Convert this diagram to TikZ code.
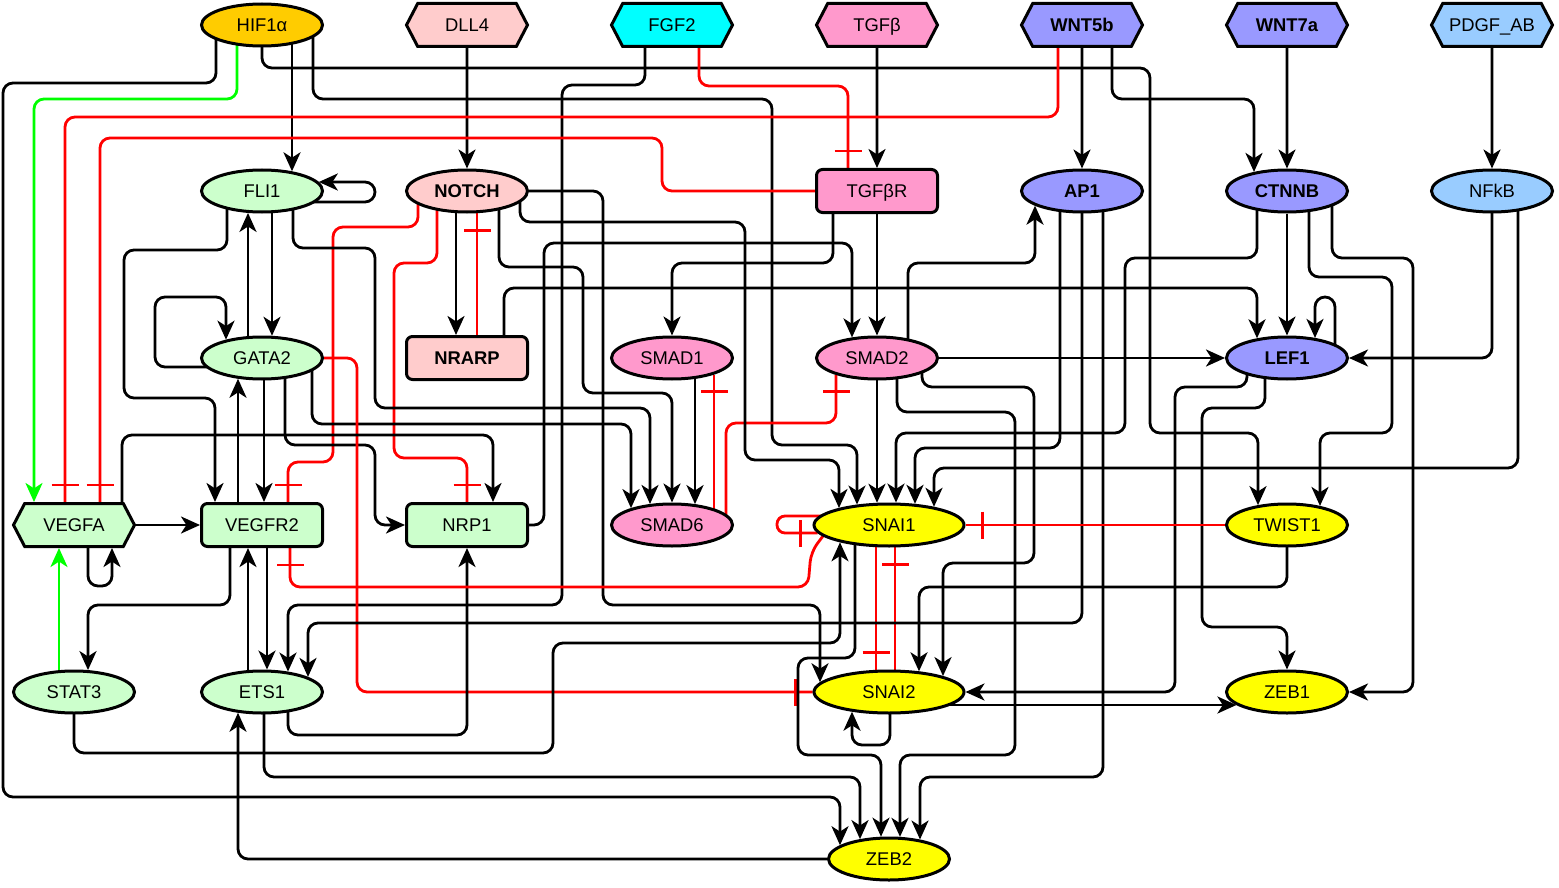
\documentclass[tikz,border=0pt]{standalone}
\usepackage{fontspec}
\setmainfont{Liberation Sans}
\usetikzlibrary{arrows.meta,calc,shapes.symbols,shapes.geometric,backgrounds,decorations.markings}
\definecolor{cHIF}{HTML}{FFCC00}
\definecolor{cPink}{HTML}{FFCCCC}
\definecolor{cCyan}{HTML}{00FFFF}
\definecolor{cMag}{HTML}{FF99CC}
\definecolor{cBlue}{HTML}{9999FF}
\definecolor{cSky}{HTML}{99CCFF}
\definecolor{cGreenN}{HTML}{CCFFCC}
\definecolor{cYel}{HTML}{FFFF00}
\definecolor{cRed}{HTML}{FF0000}
\definecolor{cGreenL}{HTML}{00FF00}
\begin{document}
\begin{tikzpicture}[x=0.5pt,y=-0.5pt,
 declare function={
   etop(\x)=-22.5*sqrt(1-(\x)*(\x)/3844);
   ebot(\x)=22.5*sqrt(1-(\x)*(\x)/3844);
   wtop(\x)=-22.5*sqrt(1-(\x)*(\x)/5852.25);
   wbot(\x)=22.5*sqrt(1-(\x)*(\x)/5852.25);
   eside(\x)=62*sqrt(1-(\x)*(\x)/506.25);
   wside(\x)=76.5*sqrt(1-(\x)*(\x)/506.25);
 },
 base/.style={draw, line width=1.5pt, inner sep=0pt, text=black, text height=6.6pt, text depth=0pt, font=\fontsize{9.2}{11}\selectfont},
 ell/.style={base, ellipse, minimum width=60.5pt, minimum height=21pt},
 wide/.style={ell, minimum width=75pt},
 box/.style={base, rectangle, rounded corners=3pt, minimum width=60.5pt, minimum height=21.5pt},
 hex/.style={base, signal, signal to=east and west, signal pointer angle=125, minimum width=60.5pt, minimum height=21.5pt},
 bf/.style={font=\fontsize{9.2}{11}\selectfont\bfseries},
 edge/.style={line width=1.4pt, rounded corners=5pt},
 act/.style={edge, black, -{Stealth[length=9.5pt,width=8.5pt,inset=2.7pt]}},
 gact/.style={edge, cGreenL, -{Stealth[length=9.5pt,width=8.5pt,inset=2.7pt]}},
 inh/.style={edge, cRed, postaction={decorate},
   decoration={markings, mark=at position -8.5pt with {\draw[cRed,line width=1.4pt] (0,-6.75pt) -- (0,6.75pt);}}},
]
% nodes
\node[ell,fill=cHIF] (hif) at (262,25) {HIF1α};
\node[hex,fill=cPink] (dll) at (467,25) {DLL4};
\node[hex,fill=cCyan] (fgf) at (672,25) {FGF2};
\node[hex,fill=cMag] (tgfb) at (877,25) {TGFβ};
\node[hex,fill=cBlue,bf] (w5b) at (1082,25) {WNT5b};
\node[hex,fill=cBlue,bf] (w7a) at (1287,25) {WNT7a};
\node[hex,fill=cSky] (pdgf) at (1492,25) {PDGF\_AB};
\node[ell,fill=cGreenN] (fli) at (262,191) {FLI1};
\node[ell,fill=cPink,bf] (notch) at (467,191) {NOTCH};
\node[box,fill=cMag] (tgfr) at (877,191) {TGFβR};
\node[ell,fill=cBlue,bf] (ap1) at (1082,191) {AP1};
\node[ell,fill=cBlue,bf] (ctnnb) at (1287,191) {CTNNB};
\node[ell,fill=cSky] (nfkb) at (1492,191) {NFkB};
\node[ell,fill=cGreenN] (gata) at (262,358) {GATA2};
\node[box,fill=cPink,bf] (nrarp) at (467,358) {NRARP};
\node[ell,fill=cMag] (smad1) at (672,358) {SMAD1};
\node[ell,fill=cMag] (smad2) at (877,358) {SMAD2};
\node[ell,fill=cBlue,bf] (lef) at (1287,358) {LEF1};
\node[hex,fill=cGreenN] (vegfa) at (74,525) {VEGFA};
\node[box,fill=cGreenN] (vegfr) at (262,525) {VEGFR2};
\node[box,fill=cGreenN] (nrp) at (467,525) {NRP1};
\node[ell,fill=cMag] (smad6) at (672,525) {SMAD6};
\node[wide,fill=cYel] (snai1) at (889,525) {SNAI1};
\node[ell,fill=cYel] (twist) at (1287,525) {TWIST1};
\node[ell,fill=cGreenN] (stat3) at (74,692) {STAT3};
\node[ell,fill=cGreenN] (ets) at (262,692) {ETS1};
\node[wide,fill=cYel] (snai2) at (889,692) {SNAI2};
\node[ell,fill=cYel] (zeb1) at (1287,692) {ZEB1};
\node[ell,fill=cYel] (zeb2) at (889,859) {ZEB2};
\begin{pgfonlayer}{background}
\path[fill=white, use as bounding box] (0,0) rectangle (1559,888);
% HIF1a
\draw[act] ($(hif)+(30,0)$) -- ($(fli)+(30,{etop(30)})$);
\draw[act] ($(hif)+(-46,0)$) |- (3,83) |- (840,797) -- ($(zeb2)+(-49,{etop(-49)})$);
\draw[gact] ($(hif)+(-25,0)$) |- (34,99) -- ($(vegfa.north)+(-40,0)$);
\draw[act] (hif.center) |- (1150,68) |- (1258,433) -- ($(twist)+(-29,{etop(-29)})$);
\draw[act] ($(hif)+(51,0)$) |- (772,99) |- (857,445) -- ($(snai1)+(-32,{wtop(-32)})$);
% DLL4, FGF2, TGFb
\draw[act] (dll) -- (notch);
\draw[act] ($(fgf)+(-27,0)$) |- (562,85) |- (288,605) -- ($(ets)+(26,{etop(26)})$);
\draw[inh] ($(fgf)+(27,0)$) |- (848,86) -- ($(tgfr.north)+(-29,0)$);
\draw[act] (tgfb) -- (tgfr);
% WNT5b, WNT7a, PDGF
\draw[inh] ($(w5b)+(-24,0)$) |- (65,117) -- ($(vegfa.north)+(-9,0)$);
\draw[act] (w5b) -- (ap1);
\draw[act] ($(w5b)+(30,0)$) |- (1254,99) -- ($(ctnnb)+(-33,{etop(-33)})$);
\draw[act] (w7a) -- (ctnnb);
\draw[act] (pdgf) -- (nfkb);
% TGFbR
\draw[inh] (tgfr.west) -| (662,138) -| ($(vegfa.north)+(26,0)$);
\draw[act] ($(tgfr)+(-44,0)$) |- (672,263) -- (smad1);
\draw[act] (tgfr) -- (smad2);
% NRP1
\draw[act] (nrp.east) -| (544,243) -| ($(smad2)+(-25,{etop(-25)})$);
% SMAD2
\draw[act] ($(smad2)+(31,0)$) |- (1035,263) -- ($(ap1)+(-47,{ebot(-47)})$);
\draw[act] (smad2.east) -- (lef.west);
\draw[act] (smad2.center) -- ($(snai1)+(-12,{wtop(-12)})$);
\draw[act] ($(smad2)+(45,0)$) |- (1034,387) |- (943,563) -- ($(snai2)+(54,{wtop(54)})$);
\draw[act] ($(smad2)+(20,0)$) |- (1015,412) |- (900,755) -- ($(zeb2)+(11,{etop(11)})$);
% SMAD6, SMAD1
\draw[inh] ($(smad6)+(54,0)$) |- (836,423) -- ($(smad2)+(-41,{ebot(-41)})$);
\draw[inh] ($(smad6)+(42,0)$) -- ($(smad1)+(42,{ebot(42)})$);
\draw[act] ($(smad1)+(23,0)$) -- ($(smad6)+(23,{etop(23)})$);
% NOTCH
\draw[act] ($(notch)+(32,0)$) |- (583,267) |- (672,393) -- (smad6);
\draw[act] ($(notch)+(53,0)$) |- (745,222) |- (839,460) -- ($(snai1)+(-50,{wtop(-50)})$);
\draw[act] (notch.east) -| (603,605) -| ($(snai2)+(-69,{wtop(-69)})$);
\draw[act] ($(notch)+(-11,0)$) -- ($(nrarp.north)+(-11,0)$);
\draw[inh] ($(notch)+(-49,0)$) |- (333,227) |- (288,462) -- ($(vegfr.north)+(26,0)$);
\draw[inh] ($(notch)+(-30,0)$) |- (394,263) |- (467,458) -- (nrp.north);
% NRARP
\draw[inh] ($(nrarp.north)+(10,0)$) -- ($(notch)+(10,{ebot(10)})$);
\draw[act] ($(nrarp.north)+(37,0)$) |- (1257,288) -- ($(lef)+(-30,{etop(-30)})$);
% FLI1
\draw[act] ($(fli)+(0,11)$) -| (375,182) -- ($(fli)+({eside(-9)},-9)$);
\draw[act] ($(fli)+(10,0)$) -- ($(gata)+(10,{etop(10)})$);
\draw[act] ($(fli)+(-35,0)$) |- (124,250) |- (215,398) -- ($(vegfr.north)+(-47,0)$);
\draw[act] ($(fli)+(31,0)$) |- (375,248) |- (650,408) -- ($(smad6)+(-22,{etop(-22)})$);
% GATA2
\draw[act] ($(gata)+(-14,0)$) -- ($(fli)+(-14,{ebot(-14)})$);
\draw[act] ($(gata)+(0,9)$) -| (155,297) -| ($(gata)+(-36,{etop(-36)})$);
\draw[act] ($(gata)+(2,0)$) -- ($(vegfr.north)+(2,0)$);
\draw[act] ($(gata)+(23,0)$) |- (375,445) |- (nrp.west);
\draw[act] ($(gata)+(50,0)$) |- (631,424) -- ($(smad6)+(-41,{etop(-41)})$);
\draw[inh] (gata.east) -| (357,692) -- (snai2.west);
% VEGFA
\draw[act] (vegfa.east) -- (vegfr.west);
\draw[act] ($(vegfa)+(14,0)$) |- (112,586) -- ($(vegfa.south)+(38,0)$);
\draw[act] ($(vegfa)+(48,0)$) |- (493,435) -- ($(nrp.north)+(26,0)$);
% STAT3
\draw[gact] ($(stat3)+(-15,0)$) -- ($(vegfa.south)+(-15,0)$);
\draw[act] (stat3.center) |- (553,753) |- (840,643) -- ($(snai1)+(-49,{wbot(-49)})$);
% VEGFR2
\draw[act] ($(vegfr)+(-24,0)$) -- ($(gata)+(-24,{ebot(-24)})$);
\draw[act] ($(vegfr)+(-32,0)$) |- (88,605) -- ($(stat3)+(14,{etop(14)})$);
\draw[act] ($(vegfr)+(5,0)$) -- ($(ets)+(5,{etop(5)})$);
% ETS1
\draw[act] ($(ets)+(-14,0)$) -- ($(vegfr.south)+(-14,0)$);
\draw[act] ($(ets)+(26,0)$) |- (467,735) -- (nrp.south);
\draw[act] ($(ets)+(2,0)$) |- (860,777) -- ($(zeb2)+(-29,{etop(-29)})$);
% ZEB2
\draw[act] (zeb2.west) -| ($(ets)+(-24,{ebot(-24)})$);
% SNAI1
\draw[inh] ($(snai1)+(-66,11)$) -- (811,552) -- (808,587) -| ($(vegfr.south)+(28,0)$);
\draw[act] ($(snai1)+(-34,0)$) |- (798,658) |- (881,755) -- ($(zeb2)+(-8,{etop(-8)})$);
\draw[inh, rounded corners=4pt] ($(snai1)+(0,-9)$) -- (777,516) -- (777,533) -- ($(snai1)+({-wside(8)},8)$);
\draw[inh] ($(snai1)+(-13,0)$) -- ($(snai2)+(-13,{wtop(-13)})$);
% SNAI2
\draw[inh] ($(snai2)+(6,0)$) -- ($(snai1)+(6,{wbot(6)})$);
\draw[act] ($(snai2)+(1,0)$) |- (852,745) -- ($(snai2)+(-37,{wbot(-37)})$);
\draw[act] ($(snai2)+(0,13)$) -- ($(zeb1)+({-eside(13)},13)$);
% AP1
\draw[act] ($(ap1)+(-22,0)$) |- (915,448) -- ($(snai1)+(26,{wtop(26)})$);
\draw[act] (ap1.center) |- (308,623) -- ($(ets)+(46,{etop(46)})$);
\draw[act] ($(ap1)+(21,0)$) |- (920,777) -- ($(zeb2)+(31,{etop(31)})$);
% CTNNB
\draw[act] ($(ctnnb)+(-30,0)$) |- (1125,258) |- (896,433) -- ($(snai1)+(7,{wtop(7)})$);
\draw[act] (ctnnb) -- (lef);
\draw[act] ($(ctnnb)+(22,0)$) |- (1392,277) |- (1320,433) -- ($(twist)+(33,{etop(33)})$);
\draw[act] ($(ctnnb)+(45,0)$) |- (1413,258) |- (zeb1.east);
% NFkB
\draw[act] (nfkb.center) |- (lef.east);
\draw[act] ($(nfkb)+(26,0)$) |- (934,468) -- ($(snai1)+(45,{wtop(45)})$);
% LEF1
\draw[act] ($(lef)+(48,0)$) |- (1315,297) -- ($(lef)+(28,{etop(28)})$);
\draw[act] ($(lef)+(-40,0)$) |- (1175,387) |- (snai2.east);
\draw[act] ($(lef)+(-22,0)$) |- (1202,408) |- (1287,627) -- (zeb1);
% TWIST1
\draw[act] (twist.center) |- (919,587) -- ($(snai2)+(30,{wtop(30)})$);
\draw[inh] (twist.west) -- (snai1.east);
\end{pgfonlayer}
\end{tikzpicture}
\end{document}
